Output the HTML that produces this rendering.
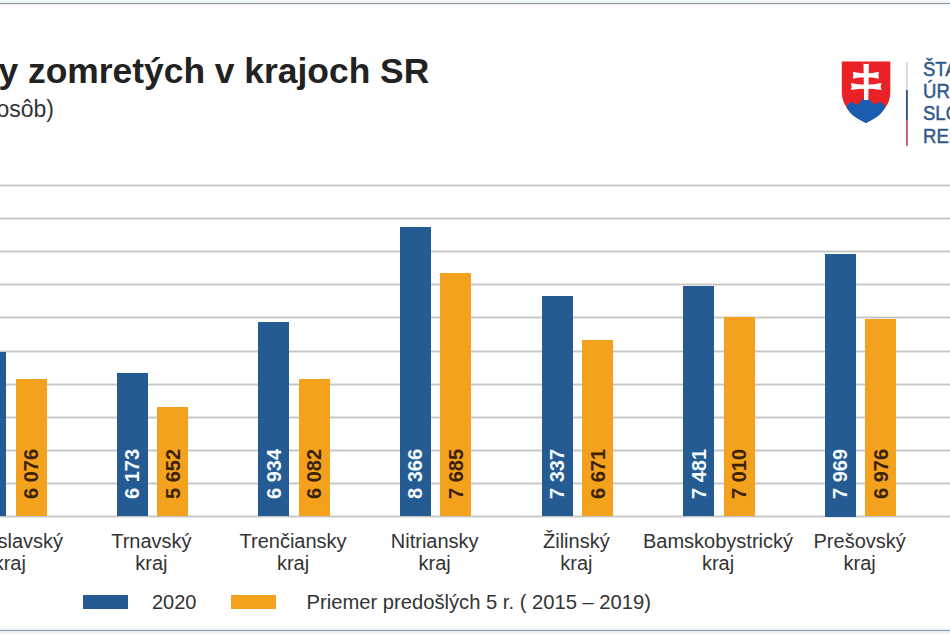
<!DOCTYPE html>
<html><head><meta charset="utf-8">
<style>
html,body{margin:0;padding:0;}
body{width:950px;height:634px;position:relative;overflow:hidden;background:#fff;font-family:"Liberation Sans",sans-serif;}
.tb{position:absolute;left:0;top:0;width:950px;height:10px;background:linear-gradient(#f2f8fa 0px,#e9f0f4 2.5px,#eef2f5 4px,#fafbfc 7px,#fff 10px);}
.tl{position:absolute;left:0;top:2.5px;width:950px;height:1.6px;background:#8d999f;}
.bl{position:absolute;left:0;top:629.7px;width:950px;height:1.6px;background:#8d999f;}
.bb{position:absolute;left:0;top:624px;width:950px;height:10px;background:linear-gradient(#fff 0px,#f6f9fa 4px,#eaf0f3 6px,#eaf0f3 8px,#f3f8fa 10px);}
.title{position:absolute;left:-1.5px;top:51px;font-size:35.4px;font-weight:bold;color:#222;white-space:nowrap;line-height:40px;}
.sub{position:absolute;left:-3.5px;top:96px;font-size:23px;color:#333;white-space:nowrap;line-height:26px;}
.g{position:absolute;left:0;width:950px;height:1px;background:#c4c4c4;box-shadow:0 -1px 0 #e6e6e6,0 1px 0 #e6e6e6;}
.bar{position:absolute;width:31px;}
.b{background:#245b93;}
.o{background:#f4a11e;}
.lbl{position:absolute;top:499px;height:20px;line-height:20px;font-size:20px;font-weight:bold;white-space:nowrap;transform-origin:0 0;transform:rotate(-90deg);}
.lw{color:#f4faff;}
.ld{color:#3a2208;}
.cat{position:absolute;top:529.5px;width:200px;text-align:center;font-size:20px;line-height:22px;color:#333;}
.leg{position:absolute;height:14.2px;width:45px;top:595.2px;}
.legt{position:absolute;top:589.8px;font-size:20px;line-height:24px;color:#333;white-space:nowrap;}
.logo{position:absolute;left:0;top:0;}
.vline{position:absolute;left:906px;width:1.6px;}
.lt{position:absolute;left:923.2px;font-size:19.5px;font-weight:normal;-webkit-text-stroke:0.45px #2d5a8a;color:#2d5a8a;white-space:nowrap;line-height:22.3px;transform-origin:0 0;transform:scaleX(0.95);}
</style></head><body>
<div class="tb"></div><div class="tl"></div>
<div class="bb"></div><div class="bl"></div>
<div class="title">y zomretých v krajoch SR</div>
<div class="sub">osôb)</div>
<div class="g" style="top:516px"></div>
<div class="g" style="top:483px"></div>
<div class="g" style="top:450px"></div>
<div class="g" style="top:417px"></div>
<div class="g" style="top:384px"></div>
<div class="g" style="top:351px"></div>
<div class="g" style="top:317px"></div>
<div class="g" style="top:284px"></div>
<div class="g" style="top:251px"></div>
<div class="g" style="top:218px"></div>
<div class="g" style="top:185px"></div>
<div class="bar b" style="left:-25.00px;top:351.60px;height:164.90px"></div>
<div class="bar o" style="left:15.50px;top:379.07px;height:137.43px"></div>
<div class="lbl ld" style="left:21.00px">6 076</div>
<div class="cat" style="left:-90.25px">Bratislavský<br>kraj</div>
<div class="bar b" style="left:116.65px;top:372.65px;height:143.85px"></div>
<div class="bar o" style="left:157.15px;top:407.14px;height:109.36px"></div>
<div class="lbl lw" style="left:122.15px">6 173</div>
<div class="lbl ld" style="left:162.65px">5 652</div>
<div class="cat" style="left:51.40px">Trnavský<br>kraj</div>
<div class="bar b" style="left:258.30px;top:322.27px;height:194.23px"></div>
<div class="bar o" style="left:298.80px;top:378.67px;height:137.83px"></div>
<div class="lbl lw" style="left:263.80px">6 934</div>
<div class="lbl ld" style="left:304.30px">6 082</div>
<div class="cat" style="left:193.05px">Trenčiansky<br>kraj</div>
<div class="bar b" style="left:399.95px;top:227.47px;height:289.03px"></div>
<div class="bar o" style="left:440.45px;top:272.55px;height:243.95px"></div>
<div class="lbl lw" style="left:405.45px">8 366</div>
<div class="lbl ld" style="left:445.95px">7 685</div>
<div class="cat" style="left:334.70px">Nitriansky<br>kraj</div>
<div class="bar b" style="left:541.60px;top:295.59px;height:220.91px"></div>
<div class="bar o" style="left:582.10px;top:339.68px;height:176.82px"></div>
<div class="lbl lw" style="left:547.10px">7 337</div>
<div class="lbl ld" style="left:587.60px">6 671</div>
<div class="cat" style="left:476.35px">Žilinský<br>kraj</div>
<div class="bar b" style="left:683.25px;top:286.06px;height:230.44px"></div>
<div class="bar o" style="left:723.75px;top:317.24px;height:199.26px"></div>
<div class="lbl lw" style="left:688.75px">7 481</div>
<div class="lbl ld" style="left:729.25px">7 010</div>
<div class="cat" style="left:618.00px">Bamskobystrický<br>kraj</div>
<div class="bar b" style="left:824.90px;top:253.75px;height:262.75px"></div>
<div class="bar o" style="left:865.40px;top:319.49px;height:197.01px"></div>
<div class="lbl lw" style="left:830.40px">7 969</div>
<div class="lbl ld" style="left:870.90px">6 976</div>
<div class="cat" style="left:759.65px">Prešovský<br>kraj</div>
<div class="leg" style="left:82.5px;background:#245b93"></div>
<div class="legt" style="left:152px">2020</div>
<div class="leg" style="left:231px;background:#f4a11e"></div>
<div class="legt" style="left:306.5px;font-size:20.2px">Priemer predošlých 5 r. ( 2015 – 2019)</div>
<svg class="logo" width="950" height="160" style="position:absolute;left:0;top:0">
  <path d="M841.8 61.4 H890.3 V92 C890.3 107 879 116 866 123 C853 116 841.8 107 841.8 92 Z" fill="#ea2127"/>
  <path d="M846.4 107 C848 104 849.5 102.2 851.4 102.2 C853.5 102.2 855 104.5 857.5 104.5 C859.5 104.8 861.5 98 865.8 98 C870 98 872 104 874 104 C876.5 104 878 102.2 880 102.2 C882 102.2 883.5 104 885.3 107 C882 114 876 118.5 866 123 C856 118.5 849.5 114 846.4 107 Z" fill="#1a5db0"/>
  <path d="M863.5 63.6 Q866.2 64.6 868.9 63.6 L868.3 100 H864.1 Z" fill="#fff"/>
  <path d="M852.8 71.8 Q866 75 879 71.8 Q877.6 75.25 879 78.7 Q866 75.8 852.8 78.7 Q854.2 75.25 852.8 71.8 Z" fill="#fff"/>
  <path d="M850.9 83.1 Q866 86.3 881.5 83.1 Q880 86.6 881.5 90.1 Q866 87.2 850.9 90.1 Q852.4 86.6 850.9 83.1 Z" fill="#fff"/>
  <rect x="906" y="62" width="1.8" height="28" fill="#d6d6dc"/>
  <rect x="906" y="90" width="1.8" height="30" fill="#2a5080"/>
  <rect x="906" y="120" width="1.8" height="25.7" fill="#c2505e"/>
</svg>
<div class="lt" style="top:57.75px">ŠTATISTICKÝ<br>ÚRAD<br>SLOVENSKEJ<br>REPUBLIKY</div>
</body></html>
